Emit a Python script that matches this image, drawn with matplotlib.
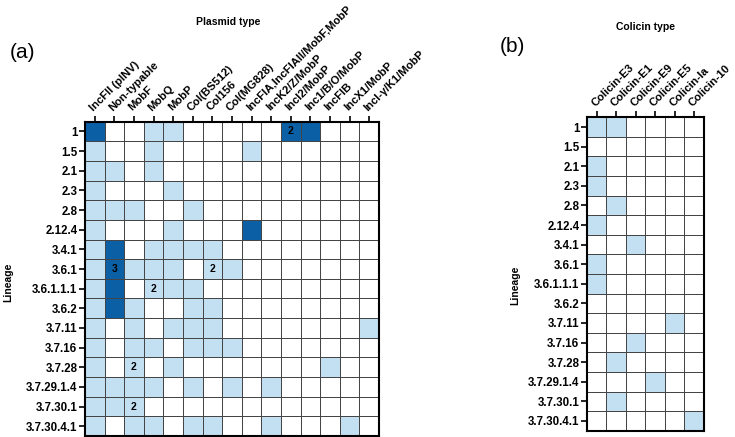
import numpy as np
import matplotlib
matplotlib.use("Agg")
import matplotlib.pyplot as plt
from matplotlib.colors import ListedColormap

plt.rcParams['font.family'] = ['Liberation Sans', 'DejaVu Sans']

lineages = ["1", "1.5", "2.1", "2.3", "2.8", "2.12.4", "3.4.1", "3.6.1", "3.6.1.1.1",
            "3.6.2", "3.7.11", "3.7.16", "3.7.28", "3.7.29.1.4", "3.7.30.1", "3.7.30.4.1"]
plasmid_types = ["IncFII (pINV)", "Non-typable", "MobF", "MobQ", "MobP", "Col(BS512)",
                 "Col156", "Col(MG828)", "IncFIA,IncFIAII/MobF,MobP", "IncK2/Z/MobP",
                 "IncI2/MobP", "Inc1/B/O/MobP", "IncFIB", "IncX1/MobP", "IncI-γ/K1/MobP"]
colicin_types = ["Colicin-E3", "Colicin-E1", "Colicin-E9", "Colicin-E5", "Colicin-Ia", "Colicin-10"]

# 0 = absent, 1 = present (light), 2 = present (dark)
plasmid_level = [
    [2, 0, 0, 1, 1, 0, 0, 0, 0, 0, 2, 2, 0, 0, 0],
    [1, 0, 0, 1, 0, 0, 0, 0, 1, 0, 0, 0, 0, 0, 0],
    [1, 1, 0, 1, 0, 0, 0, 0, 0, 0, 0, 0, 0, 0, 0],
    [1, 0, 0, 0, 1, 0, 0, 0, 0, 0, 0, 0, 0, 0, 0],
    [1, 1, 1, 0, 0, 1, 0, 0, 0, 0, 0, 0, 0, 0, 0],
    [1, 0, 0, 0, 1, 0, 0, 0, 2, 0, 0, 0, 0, 0, 0],
    [1, 2, 0, 1, 1, 1, 1, 0, 0, 0, 0, 0, 0, 0, 0],
    [1, 2, 1, 1, 1, 0, 1, 1, 0, 0, 0, 0, 0, 0, 0],
    [1, 2, 0, 1, 1, 1, 0, 0, 0, 0, 0, 0, 0, 0, 0],
    [1, 2, 1, 0, 0, 1, 1, 0, 0, 0, 0, 0, 0, 0, 0],
    [1, 0, 1, 0, 1, 1, 1, 0, 0, 0, 0, 0, 0, 0, 1],
    [1, 0, 1, 1, 0, 1, 1, 1, 0, 0, 0, 0, 0, 0, 0],
    [1, 0, 1, 0, 1, 0, 0, 0, 0, 0, 0, 0, 1, 0, 0],
    [1, 1, 1, 1, 0, 1, 0, 1, 0, 1, 0, 0, 0, 0, 0],
    [1, 1, 1, 0, 0, 0, 0, 0, 0, 0, 0, 0, 0, 0, 0],
    [1, 0, 1, 1, 0, 1, 1, 0, 0, 1, 0, 0, 0, 1, 0],
]
# (lineage, plasmid type, count label)
plasmid_counts = [("1", "IncI2/MobP", "2"), ("3.6.1", "Non-typable", "3"),
                  ("3.6.1", "Col156", "2"), ("3.6.1.1.1", "MobQ", "2"),
                  ("3.7.28", "MobF", "2"), ("3.7.30.1", "MobF", "2")]

colicin_presence = [
    [1, 1, 0, 0, 0, 0],
    [0, 0, 0, 0, 0, 0],
    [1, 0, 0, 0, 0, 0],
    [1, 0, 0, 0, 0, 0],
    [0, 1, 0, 0, 0, 0],
    [1, 0, 0, 0, 0, 0],
    [0, 0, 1, 0, 0, 0],
    [1, 0, 0, 0, 0, 0],
    [1, 0, 0, 0, 0, 0],
    [0, 0, 0, 0, 0, 0],
    [0, 0, 0, 0, 1, 0],
    [0, 0, 1, 0, 0, 0],
    [0, 1, 0, 0, 0, 0],
    [0, 0, 0, 1, 0, 0],
    [0, 1, 0, 0, 0, 0],
    [0, 0, 0, 0, 0, 1],
]

cmap = ListedColormap(["white", "#c3e0f3", "#0b5fa5"])


def draw_grid(ax, data, cols):
    data = np.array(data)
    ax.pcolormesh(data, cmap=cmap, vmin=0, vmax=2, edgecolors="#454545", linewidth=0.6)
    ax.set_xlim(0, len(cols)); ax.set_ylim(len(lineages), 0)
    ax.xaxis.tick_top()
    ax.set_xticks(np.arange(len(cols)) + 0.5)
    ax.set_xticklabels(cols, rotation=45, ha="left", va="bottom", rotation_mode="anchor",
                       fontsize=8.1, fontweight="bold")
    ax.set_yticks(np.arange(len(lineages)) + 0.5)
    ax.set_yticklabels(lineages, fontsize=8.3, fontweight="bold")
    ax.tick_params(axis="x", length=4, width=1.2, pad=2.5)
    ax.tick_params(axis="y", length=4, width=1.2, pad=1.5)
    for s in ax.spines.values():
        s.set_linewidth(1.5)


fig = plt.figure(figsize=(7.35, 4.37), dpi=100)
ax1 = fig.add_axes([0.1156, 0.0023, 0.4, 0.7193])
ax2 = fig.add_axes([0.7986, 0.0144, 0.1592, 0.7172])

draw_grid(ax1, plasmid_level, plasmid_types)
draw_grid(ax2, colicin_presence, colicin_types)

for lin, pt, txt in plasmid_counts:
    ax1.text(plasmid_types.index(pt) + 0.5, lineages.index(lin) + 0.5, txt,
             ha="center", va="center", fontsize=7.5, fontweight="bold")

fig.text(228 / 735, 1 - 22 / 437, "Plasmid type", fontsize=7.5, fontweight="bold",
         ha="center", va="center")
fig.text(645 / 735, 1 - 27 / 437, "Colicin type", fontsize=7.5, fontweight="bold",
         ha="center", va="center")
fig.text(8 / 735, 1 - 282 / 437, "Lineage", fontsize=7.5, fontweight="bold",
         rotation=90, ha="center", va="center")
fig.text(515 / 735, 1 - 285 / 437, "Lineage", fontsize=7.5, fontweight="bold",
         rotation=90, ha="center", va="center")

fig.text(22.5 / 735, 1 - 53 / 437, "(a)", fontsize=15, ha="center", va="center")
fig.text(512 / 735, 1 - 46 / 437, "(b)", fontsize=15, ha="center", va="center")

fig.savefig("out.png", dpi=100)
